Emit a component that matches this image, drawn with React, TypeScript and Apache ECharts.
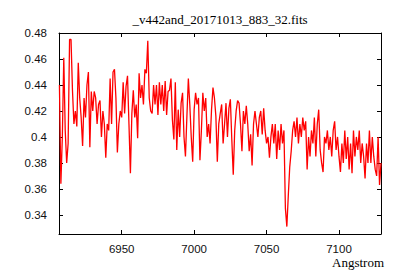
import React, { useEffect, useRef } from "react";
import * as echarts from "echarts";

const TITLE = "_v442and_20171013_883_32.fits";
const X_NAME = "Angstrom";
const START_WAVELENGTH = 6907;
const STEP = 1;
const X_TICKS = [6950, 7000, 7050, 7100];
const Y_TICKS = [0.34, 0.36, 0.38, 0.4, 0.42, 0.44, 0.46, 0.48];
const X_MIN = 6906.7;
const X_MAX = 7129;
const Y_MIN = 0.3253;
const Y_MAX = 0.48;

const FLUX = [
  0.44, 0.364, 0.40, 0.461, 0.405, 0.38, 0.395, 0.475, 0.475, 0.436,
  0.41, 0.42, 0.408, 0.457, 0.43, 0.415, 0.393, 0.43, 0.415, 0.44,
  0.45, 0.392, 0.435, 0.42, 0.435, 0.43, 0.41, 0.425, 0.428, 0.40,
  0.42, 0.41, 0.384, 0.41, 0.405, 0.445, 0.41, 0.45, 0.452, 0.43,
  0.388, 0.41, 0.42, 0.415, 0.442, 0.418, 0.439, 0.447, 0.41, 0.372,
  0.418, 0.436, 0.415, 0.425, 0.399, 0.449, 0.43, 0.44, 0.425, 0.452,
  0.449, 0.474, 0.43, 0.42, 0.418, 0.44, 0.425, 0.44, 0.417, 0.442,
  0.425, 0.44, 0.42, 0.443, 0.417, 0.435, 0.436, 0.445, 0.413, 0.398,
  0.442, 0.39, 0.421, 0.40, 0.426, 0.434, 0.40, 0.385, 0.416, 0.445,
  0.425, 0.40, 0.381, 0.421, 0.434, 0.425, 0.43, 0.382, 0.405, 0.434,
  0.42, 0.43, 0.40, 0.41, 0.395, 0.421, 0.438, 0.43, 0.416, 0.381,
  0.41, 0.418, 0.425, 0.395, 0.41, 0.426, 0.40, 0.422, 0.429, 0.398,
  0.371, 0.405, 0.42, 0.428, 0.426, 0.41, 0.389, 0.42, 0.41, 0.424,
  0.41, 0.389, 0.402, 0.378, 0.41, 0.42, 0.41, 0.40, 0.415, 0.42,
  0.402, 0.422, 0.405, 0.395, 0.40, 0.384, 0.40, 0.41, 0.395, 0.41,
  0.383, 0.405, 0.39, 0.41, 0.395, 0.405, 0.345, 0.331, 0.355, 0.377,
  0.389, 0.405, 0.412, 0.40, 0.415, 0.395, 0.41, 0.40, 0.415, 0.405,
  0.412, 0.375, 0.40, 0.385, 0.405, 0.395, 0.415, 0.385, 0.41, 0.421,
  0.39, 0.38, 0.373, 0.40, 0.395, 0.405, 0.39, 0.40, 0.385, 0.405,
  0.412, 0.39, 0.40, 0.385, 0.373, 0.395, 0.38, 0.405, 0.383, 0.40,
  0.375, 0.395, 0.372, 0.405, 0.385, 0.40, 0.39, 0.405, 0.38, 0.395,
  0.385, 0.368, 0.395, 0.38, 0.405, 0.38, 0.40, 0.385, 0.375, 0.37,
  0.40, 0.363, 0.38,
];

const WAVELENGTH = FLUX.map((_, i) => START_WAVELENGTH + i * STEP);

export default function App() {
  const ref = useRef<HTMLDivElement>(null);
  useEffect(() => {
    if (!ref.current) return;
    const chart = echarts.init(ref.current, undefined, { renderer: "svg" });
    const sans = "Liberation Sans";
    const serif = "Liberation Serif";
    const lineStyle = { color: "#000", width: 1 };
    const tickStyle = { color: "#000", width: 1 };
    chart.setOption({
      animation: false,
      backgroundColor: "#fff",
      grid: { left: 59, right: 19, top: 33, bottom: 46, containLabel: false },
      graphic: [
        {
          type: "text",
          x: 220,
          y: 19,
          style: {
            text: TITLE,
            fontFamily: serif,
            fontSize: 13,
            fill: "#000",
            textAlign: "center",
            textVerticalAlign: "middle",
          },
        },
        {
          type: "text",
          x: 384,
          y: 262,
          style: {
            text: X_NAME,
            fontFamily: serif,
            fontSize: 13,
            fill: "#000",
            textAlign: "right",
            textVerticalAlign: "middle",
          },
        },
      ],
      xAxis: [
        {
          type: "value",
          position: "bottom",
          min: X_MIN,
          max: X_MAX,
          axisLine: { show: true, onZero: false, lineStyle },
          axisTick: { show: true, inside: true, length: 4, customValues: X_TICKS, lineStyle: tickStyle },
          axisLabel: {
            show: true,
            customValues: X_TICKS,
            margin: 9,
            fontFamily: sans,
            fontSize: 11.5,
            color: "#111",
            formatter: (v: number) => String(v),
          },
          splitLine: { show: false },
        },
        {
          type: "value",
          position: "top",
          min: X_MIN,
          max: X_MAX,
          axisLine: { show: true, onZero: false, lineStyle },
          axisTick: { show: true, inside: true, length: 4, customValues: X_TICKS, lineStyle: tickStyle },
          axisLabel: { show: false },
          splitLine: { show: false },
        },
      ],
      yAxis: [
        {
          type: "value",
          position: "left",
          min: Y_MIN,
          max: Y_MAX,
          axisLine: { show: true, onZero: false, lineStyle },
          axisTick: { show: true, inside: true, length: 4, customValues: Y_TICKS, lineStyle: tickStyle },
          axisLabel: {
            show: true,
            customValues: Y_TICKS,
            margin: 12,
            fontFamily: sans,
            fontSize: 11.5,
            color: "#111",
            formatter: (v: number) => String(parseFloat(v.toFixed(2))),
          },
          splitLine: { show: false },
        },
        {
          type: "value",
          position: "right",
          min: Y_MIN,
          max: Y_MAX,
          axisLine: { show: true, onZero: false, lineStyle },
          axisTick: { show: true, inside: true, length: 4, customValues: Y_TICKS, lineStyle: tickStyle },
          axisLabel: { show: false },
          splitLine: { show: false },
        },
      ],
      series: [
        {
          type: "line",
          xAxisIndex: 0,
          yAxisIndex: 0,
          data: WAVELENGTH.map((w, i) => [w, FLUX[i]]),
          showSymbol: false,
          symbol: "none",
          lineStyle: { color: "#ff0000", width: 1.3 },
          clip: true,
        },
      ],
    });
    return () => chart.dispose();
  }, []);
  return (
    <div
      ref={ref}
      style={{ position: "fixed", left: 0, top: 0, width: 400, height: 280, background: "#fff" }}
    />
  );
}
